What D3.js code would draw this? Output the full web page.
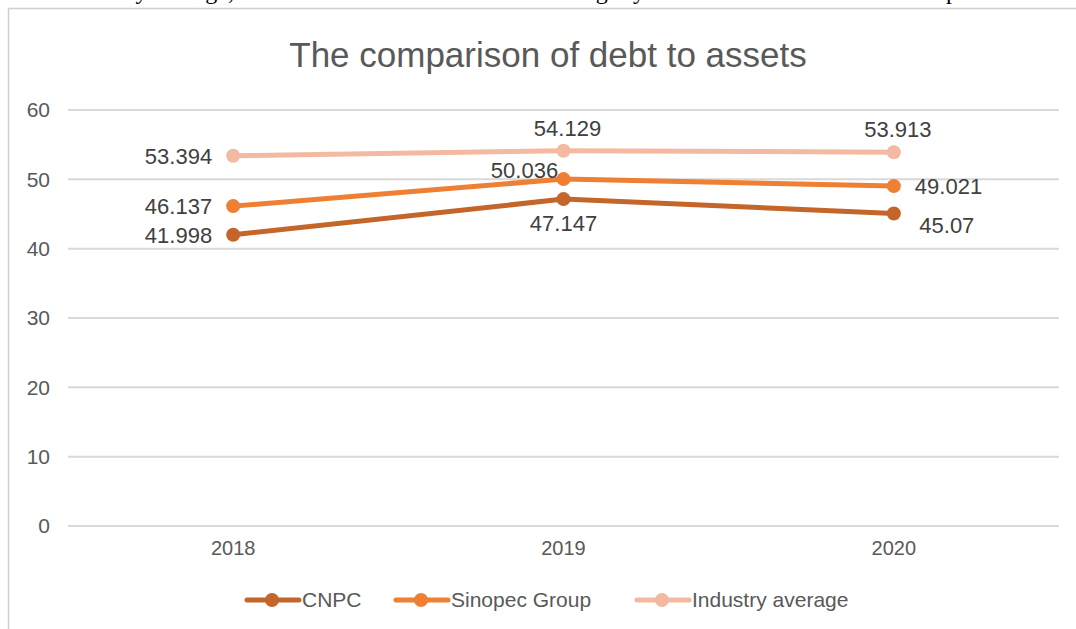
<!DOCTYPE html>
<html>
<head>
<meta charset="utf-8">
<script src="https://d3js.org/d3.v7.min.js"></script>
<style>
  body { margin: 0; background: #fff; overflow: hidden; }
  svg { display: block; }
</style>
</head>
<body>
<script>
// chart data
var years = ["2018", "2019", "2020"];
var seriesNames = ["CNPC", "Sinopec Group", "Industry average"];
var cnpc = [41.998, 47.147, 45.07];
var sinopec = [46.137, 50.036, 49.021];
var industry = [53.394, 54.129, 53.913];
var yTicks = [0, 10, 20, 30, 40, 50, 60];

var colors = ["#c4652a", "#ee7f33", "#f3b9a2"];

// where each data label sits relative to its point
var labelPos = [
  ["left", "below", "belowRight"],
  ["left", "aboveLeft", "right"],
  ["left", "above", "above"]
];

var width = 1076, height = 629;
var margin = {top: 110, left: 68, right: 1059, bottom: 526};

var svg = d3.select("body").append("svg")
  .attr("width", width)
  .attr("height", height);

// clipped line of the surrounding document text (only descenders show)
var docText = [
  {t: "industry average,", x: 234},
  {t: "slightly", x: 645},
  {t: "period", x: 946}
];
svg.selectAll("text.doc").data(docText).enter().append("text")
  .attr("class", "doc")
  .attr("x", function(d) { return d.x; })
  .attr("y", -0.6)
  .attr("text-anchor", function(d, i) { return i == 2 ? "start" : "end"; })
  .style("font-family", "'Liberation Serif', serif")
  .style("font-size", "24px")
  .style("fill", "#000")
  .text(function(d) { return d.t; });

// chart frame
svg.append("rect")
  .attr("x", 8.5).attr("y", 8.5)
  .attr("width", 1200).attr("height", 800)
  .attr("fill", "#fff")
  .attr("stroke", "#cfcfcf")
  .attr("stroke-width", 1.5);

var x = d3.scaleBand()
  .domain(years)
  .range([margin.left, margin.right]);

var y = d3.scaleLinear()
  .domain([0, 60])
  .range([margin.bottom, margin.top]);

// gridlines
svg.append("g").selectAll("line").data(yTicks).enter().append("line")
  .attr("x1", margin.left).attr("x2", margin.right)
  .attr("y1", function(d) { return y(d); })
  .attr("y2", function(d) { return y(d); })
  .attr("stroke", "#d9d9d9")
  .attr("stroke-width", 2);

// y axis labels
var yAxis = d3.axisLeft(y).tickValues(yTicks).tickSize(0).tickPadding(0);
var yg = svg.append("g")
  .attr("transform", "translate(50,0)")
  .call(yAxis);
yg.select(".domain").remove();
yg.selectAll("text")
  .style("font-family", "'Liberation Sans', Arial, sans-serif")
  .style("font-size", "21px")
  .style("fill", "#595959");

// x axis labels
var xAxis = d3.axisBottom(x).tickSize(0).tickPadding(0);
var xg = svg.append("g")
  .attr("transform", "translate(0,541)")
  .call(xAxis);
xg.select(".domain").remove();
xg.selectAll("text")
  .style("font-family", "'Liberation Sans', Arial, sans-serif")
  .style("font-size", "20px")
  .style("fill", "#595959");

// title
svg.append("text")
  .attr("x", 548)
  .attr("y", 67)
  .attr("text-anchor", "middle")
  .style("font-family", "'Liberation Sans', Arial, sans-serif")
  .style("font-size", "35px")
  .style("fill", "#595959")
  .text("The comparison of debt to assets");

var series = [cnpc, sinopec, industry];
var cx = function(i) { return x(years[i]) + x.bandwidth() / 2; };

var line = d3.line()
  .x(function(d, i) { return cx(i); })
  .y(function(d) { return y(d); });

series.forEach(function(vals, s) {
  svg.append("path")
    .datum(vals)
    .attr("d", line)
    .attr("fill", "none")
    .attr("stroke", colors[s])
    .attr("stroke-width", 5)
    .attr("stroke-linecap", "round");

  svg.append("g").selectAll("circle").data(vals).enter().append("circle")
    .attr("cx", function(d, i) { return cx(i); })
    .attr("cy", function(d) { return y(d); })
    .attr("r", 7)
    .attr("fill", colors[s]);
});

// data labels
var offsets = {
  left: {dx: -21, dy: 8, anchor: "end"},
  right: {dx: 21, dy: 8, anchor: "start"},
  above: {dx: 4, dy: -15, anchor: "middle"},
  aboveLeft: {dx: -39, dy: -1, anchor: "middle"},
  below: {dx: 0, dy: 32, anchor: "middle"},
  belowRight: {dx: 53, dy: 19, anchor: "middle"}
};
series.forEach(function(vals, s) {
  svg.append("g").selectAll("text").data(vals).enter().append("text")
    .attr("x", function(d, i) { return cx(i) + offsets[labelPos[s][i]].dx; })
    .attr("y", function(d) { return y(d); })
    .attr("dy", function(d, i) { return offsets[labelPos[s][i]].dy; })
    .attr("text-anchor", function(d, i) { return offsets[labelPos[s][i]].anchor; })
    .style("font-family", "'Liberation Sans', Arial, sans-serif")
    .style("font-size", "22px")
    .style("fill", "#404040")
    .text(function(d) { return d; });
});

// legend
var legendX = [245, 394, 635];
var legend = svg.append("g").selectAll("g").data(seriesNames).enter().append("g")
  .attr("transform", function(d, i) { return "translate(" + legendX[i] + ",600)"; });
legend.append("line")
  .attr("x1", 2).attr("x2", 54)
  .attr("stroke", function(d, i) { return colors[i]; })
  .attr("stroke-width", 5)
  .attr("stroke-linecap", "round");
legend.append("circle")
  .attr("cx", 27).attr("r", 7)
  .attr("fill", function(d, i) { return colors[i]; });
legend.append("text")
  .attr("x", 57)
  .attr("dy", 7)
  .style("font-family", "'Liberation Sans', Arial, sans-serif")
  .style("font-size", "21px")
  .style("fill", "#595959")
  .text(function(d) { return d; });
</script>
</body>
</html>
